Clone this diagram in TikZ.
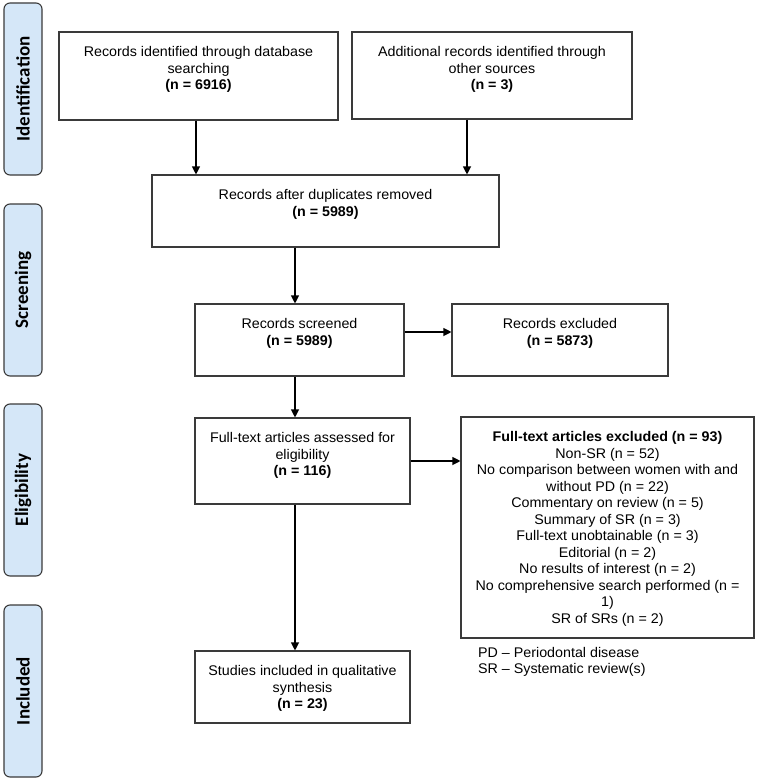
\documentclass[tikz,border=0pt]{standalone}
\usepackage{fontspec}
\setmainfont[FakeStretch=1.02]{Liberation Sans}
\newfontfamily\barfont{Carlito}
\usetikzlibrary{arrows.meta}
\definecolor{linecol}{HTML}{3A3A3A}
\definecolor{barfill}{HTML}{D5E7F8}
\begin{document}
\begin{tikzpicture}[x=1pt,y=-1pt,
 box/.style={draw=linecol, line width=1.1pt, rectangle, inner sep=0pt},
 txt/.style={align=center, font=\fontsize{14}{16.5}\selectfont, inner sep=0pt, anchor=north},
 bar/.style={draw=linecol, fill=barfill, rounded corners=6pt, line width=1.1pt, rotate=90, minimum width=172pt, minimum height=38pt, inner sep=0pt, font=\barfont\bfseries\fontsize{19}{22}\selectfont},
 arr/.style={draw=black, line width=1.1pt, -{Triangle[length=8pt,width=8pt]}}
]
\useasboundingbox (0,0) rectangle (756,781);
% side bars
\node[bar] (s1) at (23,89) {Identification};
\node[bar] (s2) at (23,290) {Screening};
\node[bar] (s3) at (23,490) {Eligibility};
\node[bar] (s4) at (23,691) {Included};
% boxes
\node[box, minimum width=279pt, minimum height=88pt] (b1) at (198.5,76) {};
\node[box, minimum width=280pt, minimum height=87pt] (b2) at (492,75.5) {};
\node[box, minimum width=347pt, minimum height=72pt] (b3) at (325.5,211) {};
\node[box, minimum width=209pt, minimum height=72pt] (b4) at (299.5,340) {};
\node[box, minimum width=216pt, minimum height=72pt] (b5) at (560,340) {};
\node[box, minimum width=215pt, minimum height=86pt] (b6) at (302.5,461) {};
\node[box, minimum width=293pt, minimum height=221pt] (b7) at (607.5,527.5) {};
\node[box, minimum width=215pt, minimum height=72pt] (b8) at (302.5,687) {};
% texts
\node[txt] (t1) at ([yshift=-15pt]b1.north) {Records identified through database\\searching\\\textbf{(n = 6916)}};
\node[txt] (t2) at ([yshift=-15pt]b2.north) {Additional records identified through\\other sources\\\textbf{(n = 3)}};
\node[txt] (t3) at ([yshift=-15pt]b3.north) {Records after duplicates removed\\\textbf{(n = 5989)}};
\node[txt] (t4) at ([yshift=-15pt]b4.north) {Records screened\\\textbf{(n = 5989)}};
\node[txt] (t5) at ([yshift=-15pt]b5.north) {Records excluded\\\textbf{(n = 5873)}};
\node[txt] (t6) at ([yshift=-15pt]b6.north) {Full-text articles assessed for\\eligibility\\\textbf{(n = 116)}};
\node[txt] (t7) at ([yshift=-15pt]b7.north) {\textbf{Full-text articles excluded (n = 93)}\\Non-SR (n = 52)\\No comparison between women with and\\without PD (n = 22)\\Commentary on review (n = 5)\\Summary of SR (n = 3)\\Full-text unobtainable (n = 3)\\Editorial (n = 2)\\No results of interest (n = 2)\\No comprehensive search performed (n =\\1)\\SR of SRs (n = 2)};
\node[txt] (t8) at ([yshift=-15pt]b8.north) {Studies included in qualitative\\synthesis\\\textbf{(n = 23)}};
\node[txt, anchor=north west, align=left] (leg) at (478,647) {PD -- Periodontal disease\\SR -- Systematic review(s)};
% arrows
\draw[arr] ([xshift=-2.5pt]b1.south) -- ([xshift=-2.5pt]b1.south |- b3.north);
\draw[arr] ([xshift=-25pt]b2.south) -- ([xshift=-25pt]b2.south |- b3.north);
\draw[arr] ([xshift=-4.5pt]b4.north |- b3.south) -- ([xshift=-4.5pt]b4.north);
\draw[arr] ([yshift=8pt]b4.east) -- ([yshift=8pt]b4.east -| b5.west);
\draw[arr] ([xshift=-7.5pt]b6.north |- b4.south) -- ([xshift=-7.5pt]b6.north);
\draw[arr] (b6.east) -- (b6.east -| b7.west);
\draw[arr] ([xshift=-7.5pt]b6.south) -- ([xshift=-7.5pt]b8.north);
\end{tikzpicture}
\end{document}
